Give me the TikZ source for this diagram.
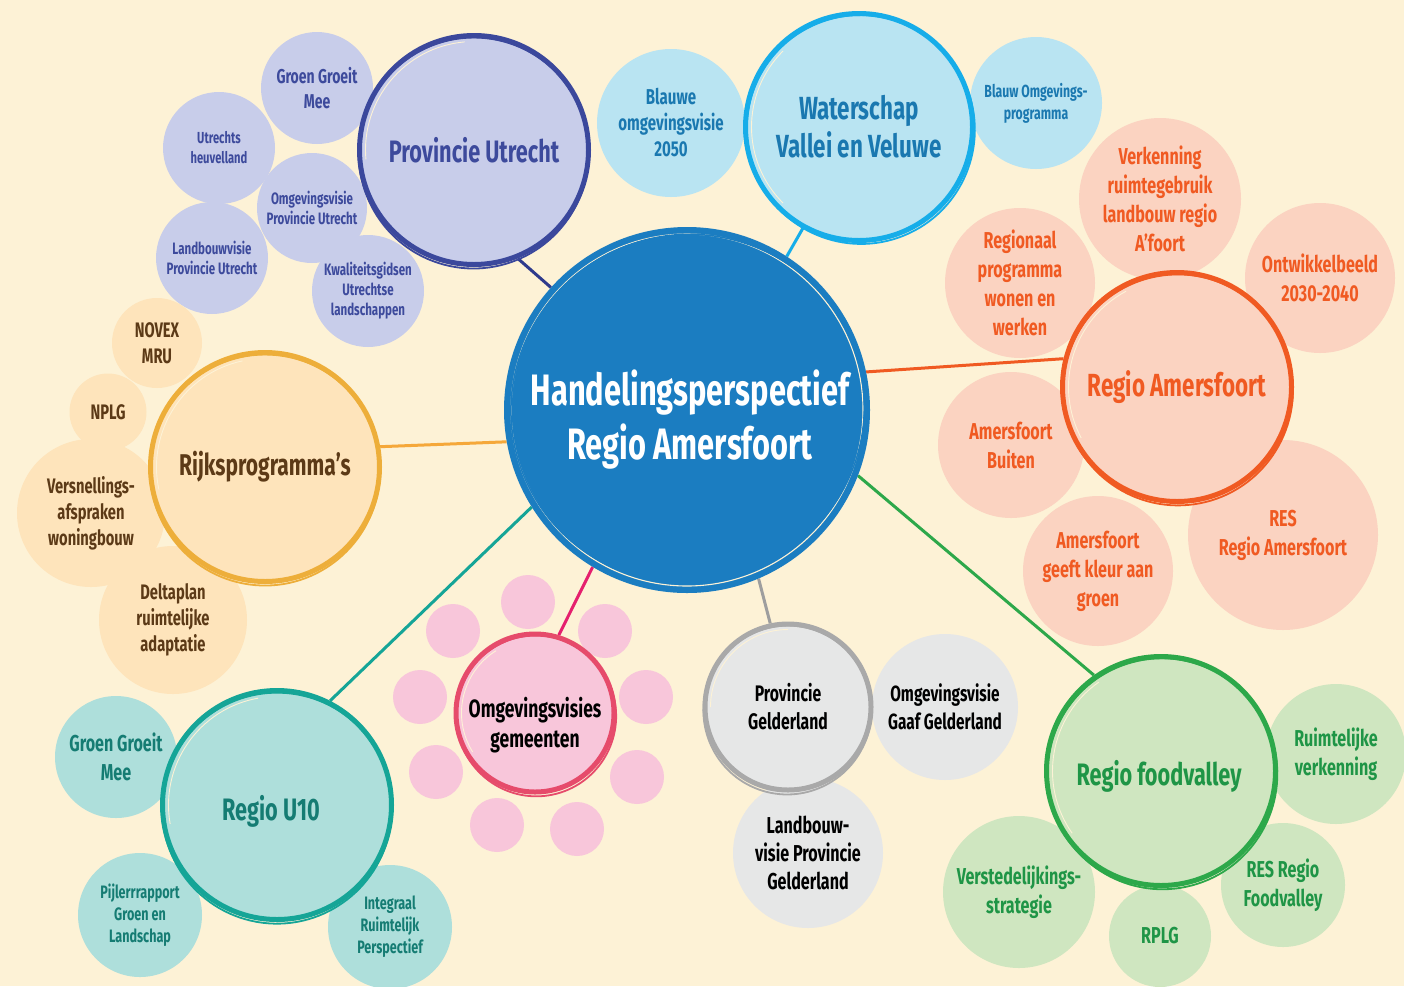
\documentclass[tikz,border=0pt]{standalone}
\usepackage{fontspec}
\setmainfont{Fira Sans}[FakeStretch=0.7]
\usetikzlibrary{calc}
\pgfdeclarelayer{bg}
\pgfsetlayers{bg,main}
\definecolor{bgc}{HTML}{FDF2D6}
\definecolor{hubc}{HTML}{1B7DC1}
\definecolor{puF}{HTML}{C8CDEA}\definecolor{puS}{HTML}{3B489C}\definecolor{puT}{HTML}{3D4A9C}\definecolor{puL}{HTML}{2E3A8C}
\definecolor{waF}{HTML}{B9E4F2}\definecolor{waS}{HTML}{16ADE9}\definecolor{waT}{HTML}{1A78B0}
\definecolor{raF}{HTML}{FBD3C1}\definecolor{raS}{HTML}{F05A22}\definecolor{raT}{HTML}{F05A22}
\definecolor{rkF}{HTML}{FEE4BB}\definecolor{rkS}{HTML}{EDAE3A}\definecolor{rkT}{HTML}{5C3A17}\definecolor{rkL}{HTML}{F5A83A}
\definecolor{omF}{HTML}{F8C6DA}\definecolor{omS}{HTML}{E64B6B}\definecolor{omL}{HTML}{E5206E}
\definecolor{geF}{HTML}{E6E7E7}\definecolor{geS}{HTML}{A9A9A9}\definecolor{geL}{HTML}{9E9E9E}
\definecolor{fvF}{HTML}{CFE6C0}\definecolor{fvS}{HTML}{2DA84A}\definecolor{fvT}{HTML}{1F9546}
\definecolor{uaF}{HTML}{AEDFDB}\definecolor{uaS}{HTML}{15A597}\definecolor{uaT}{HTML}{157C73}
% scribbled double ring: name, radius, colour, rotation
\newcommand\ringit[4]{%
  \draw[#3, line width=1.8pt, rotate around={#4:(#1.center)}] ($(#1.center)+(0.5pt,-3pt)$) ellipse [x radius={#2pt+1pt}, y radius={#2pt+1.5pt}];
  \draw[bgc, line width=0.9pt] ($(#1.center)+({#4+110}:{#2pt-5.5pt})$) arc[start angle={#4+110}, end angle={#4+200}, radius={#2pt-5.5pt}];
}
\tikzset{
  sm/.style={circle, inner sep=0pt, align=center},
  big/.style={circle, inner sep=0pt, align=center, line width=5pt},
  fs/.style 2 args={font=\fontsize{#1}{#2}\selectfont\bfseries},
  txt/.style={inner sep=0pt, align=center},
  link/.style={line width=3pt},
}
\begin{document}
\begin{tikzpicture}[x=1pt,y=-1pt]
\begin{pgfonlayer}{bg}
\fill[bgc] (0,0) rectangle (1404,986);
\end{pgfonlayer}
\useasboundingbox (0,0) rectangle (1404,986);

% ---------- hub
\node[circle, fill=hubc, minimum size=366pt, inner sep=0pt] (hub) at (687,410) {};
\draw[bgc, line width=1.1pt] (hub.center) circle (176pt);
\draw[hubc, line width=1.5pt, rotate around={20:(hub.center)}] ($(hub.center)+(1pt,1pt)$) ellipse [x radius=177pt, y radius=174pt];
\node[txt, text=white, fs={44}{54}] (hubt) at (690,420) {Handelingsperspectief\\Regio Amersfoort};

% ---------- Provincie Utrecht
\node[sm, fill=puF, text=puT, fs={20}{25}, minimum size=112pt] (pu1) at (317,88) {Groen Groeit\\Mee};
\node[sm, fill=puF, text=puT, fs={16}{20}, minimum size=112pt] (pu2) at (219,148) {Utrechts\\heuvelland};
\node[sm, fill=puF, text=puT, fs={16.5}{20}, minimum size=110pt] (pu3) at (312,208) {Omgevingsvisie\\Provincie Utrecht};
\node[sm, fill=puF, text=puT, fs={16.5}{20}, minimum size=112pt] (pu4) at (212,258) {Landbouwvisie\\Provincie Utrecht};
\node[sm, fill=puF, text=puT, fs={16.5}{20}, minimum size=112pt] (pu5) at (368,291) {Kwaliteitsgidsen\\Utrechtse\\landschappen};
\node[big, fill=puF, draw=puS, text=puT, fs={31}{38}, minimum size=229pt] (pu) at (474,150) {Provincie Utrecht};
\ringit{pu}{114}{puS}{-15}

% ---------- Waterschap
\node[sm, fill=waF, text=waT, fs={21.5}{26}, minimum size=148pt] (wa1) at (671,123) {Blauwe\\omgevingsvisie\\2050};
\node[sm, fill=waF, text=waT, fs={17.5}{22}, minimum size=132pt] (wa2) at (1036,103) {Blauw Omgevings-\\programma};
\node[big, fill=waF, draw=waS, text=waT, fs={32}{38}, minimum size=227pt] (wa) at (859,127) {Waterschap\\Vallei en Veluwe};
\ringit{wa}{113}{waS}{25}

% ---------- Regio Amersfoort
\node[sm, fill=raF, text=raT, fs={23}{29}, minimum size=162pt] (ra1) at (1160,199) {Verkenning\\ruimtegebruik\\landbouw regio\\A’foort};
\node[sm, fill=raF, text=raT, fs={23}{29}, minimum size=150pt] (ra2) at (1020,283) {Regionaal\\programma\\wonen en\\werken};
\node[sm, fill=raF, text=raT, fs={23}{29}, minimum size=150pt] (ra3) at (1320,278) {Ontwikkelbeeld\\2030-2040};
\node[sm, fill=raF, text=raT, fs={23}{29}, minimum size=146pt] (ra4) at (1011,445) {Amersfoort\\Buiten};
\node[sm, fill=raF, text=raT, fs={23}{29}, minimum size=150pt] (ra5) at (1098,571) {Amersfoort\\geeft kleur aan\\groen};
\node[sm, fill=raF, text=raT, fs={23}{29}, minimum size=190pt] (ra6) at (1283,535) {RES\\Regio Amersfoort};
\node[big, fill=raF, draw=raS, text=raT, fs={32}{38}, minimum size=229pt] (ra) at (1177,387) {Regio Amersfoort};
\ringit{ra}{114}{raS}{8}

% ---------- Rijksprogramma's
\node[sm, fill=rkF, text=rkT, fs={21}{26}, minimum size=90pt] (rk1) at (157,343) {NOVEX\\MRU};
\node[sm, fill=rkF, text=rkT, fs={21}{26}, minimum size=77pt] (rk2) at (108,412) {NPLG};
\node[sm, fill=rkF, text=rkT, fs={21}{26}, minimum size=148pt] (rk3) at (91,513) {Versnellings-\\afspraken\\woningbouw};
\node[sm, fill=rkF, text=rkT, fs={21}{26}, minimum size=148pt] (rk4) at (173,620) {Deltaplan\\ruimtelijke\\adaptatie};
\node[big, fill=rkF, draw=rkS, text=rkT, fs={30}{35}, minimum size=229pt] (rk) at (265,467) {Rijksprogramma’s};
\ringit{rk}{114}{rkS}{-8}

% ---------- Omgevingsvisies gemeenten
\foreach \p [count=\i] in {(528,602),(453,631),(605,631),(420,697),(646,697),(436,772),(637,777),(497,825),(577,829)}
  \node[sm, fill=omF, minimum size=54pt] (om\i) at \p {};
\node[big, fill=omF, draw=omS, minimum size=158pt] (om) at (535,713) {};
\ringit{om}{79}{omS}{12}
\node[txt, text=black, fs={25}{30}] (omt) at (535,725) {Omgevingsvisies\\gemeenten};

% ---------- Provincie Gelderland
\node[sm, fill=geF, text=black, fs={22}{28}, minimum size=146pt] (ge1) at (945,707) {Omgevingsvisie\\Gaaf Gelderland};
\node[sm, fill=geF, text=black, fs={23}{28}, minimum size=150pt] (ge2) at (808,853) {Landbouw-\\visie Provincie\\Gelderland};
\node[big, fill=geF, draw=geS, text=black, fs={22.5}{28}, minimum size=166pt] (ge) at (788,707) {Provincie\\Gelderland};
\ringit{ge}{83}{geS}{-20}

% ---------- Regio foodvalley
\node[sm, fill=fvF, text=fvT, fs={23}{29}, minimum size=140pt] (fv1) at (1336,754) {Ruimtelijke\\verkenning};
\node[sm, fill=fvF, text=fvT, fs={23}{29}, minimum size=124pt] (fv2) at (1283,885) {RES Regio\\Foodvalley};
\node[sm, fill=fvF, text=fvT, fs={23}{29}, minimum size=102pt] (fv3) at (1160,936) {RPLG};
\node[sm, fill=fvF, text=fvT, fs={23}{29}, minimum size=152pt] (fv4) at (1019,892) {Verstedelijkings-\\strategie};
\node[big, fill=fvF, draw=fvS, minimum size=229pt] (fv) at (1161,771) {};
\ringit{fv}{114}{fvS}{15}
\node[txt, text=fvT, fs={31}{38}] (fvt) at (1159,776) {Regio foodvalley};

% ---------- Regio U10
\node[sm, fill=uaF, text=uaT, fs={23}{29}, minimum size=122pt] (ua1) at (116,757) {Groen Groeit\\Mee};
\node[sm, fill=uaF, text=uaT, fs={18}{22}, minimum size=124pt] (ua2) at (140,915) {Pijlerrrapport\\Groen en\\Landschap};
\node[sm, fill=uaF, text=uaT, fs={18}{22}, minimum size=124pt] (ua3) at (390,927) {Integraal\\Ruimtelijk\\Perspectief};
\node[big, fill=uaF, draw=uaS, minimum size=229pt] (ua) at (277,805) {};
\ringit{ua}{114}{uaS}{-10}
\node[txt, text=uaT, fs={31}{38}] (uat) at (271,811) {Regio U10};

% ---------- connectors (behind)
\begin{pgfonlayer}{bg}
\draw[link, puL] (pu.-68) -- (hub.138);
\draw[link, waS] (wa.-119) -- (hub.57);
\draw[link, raS] (ra.166) -- (hub.12);
\draw[link, rkL] (rk.10) -- (hub.190);
\draw[link, uaS] (ua.63) -- (hub.212);
\draw[link, omL] (om.73) -- (hub.239);
\draw[link, geL] (ge.102) -- (hub.-67);
\draw[link, fvS] (fv.125) -- (hub.-21);
\end{pgfonlayer}
\end{tikzpicture}
\end{document}
